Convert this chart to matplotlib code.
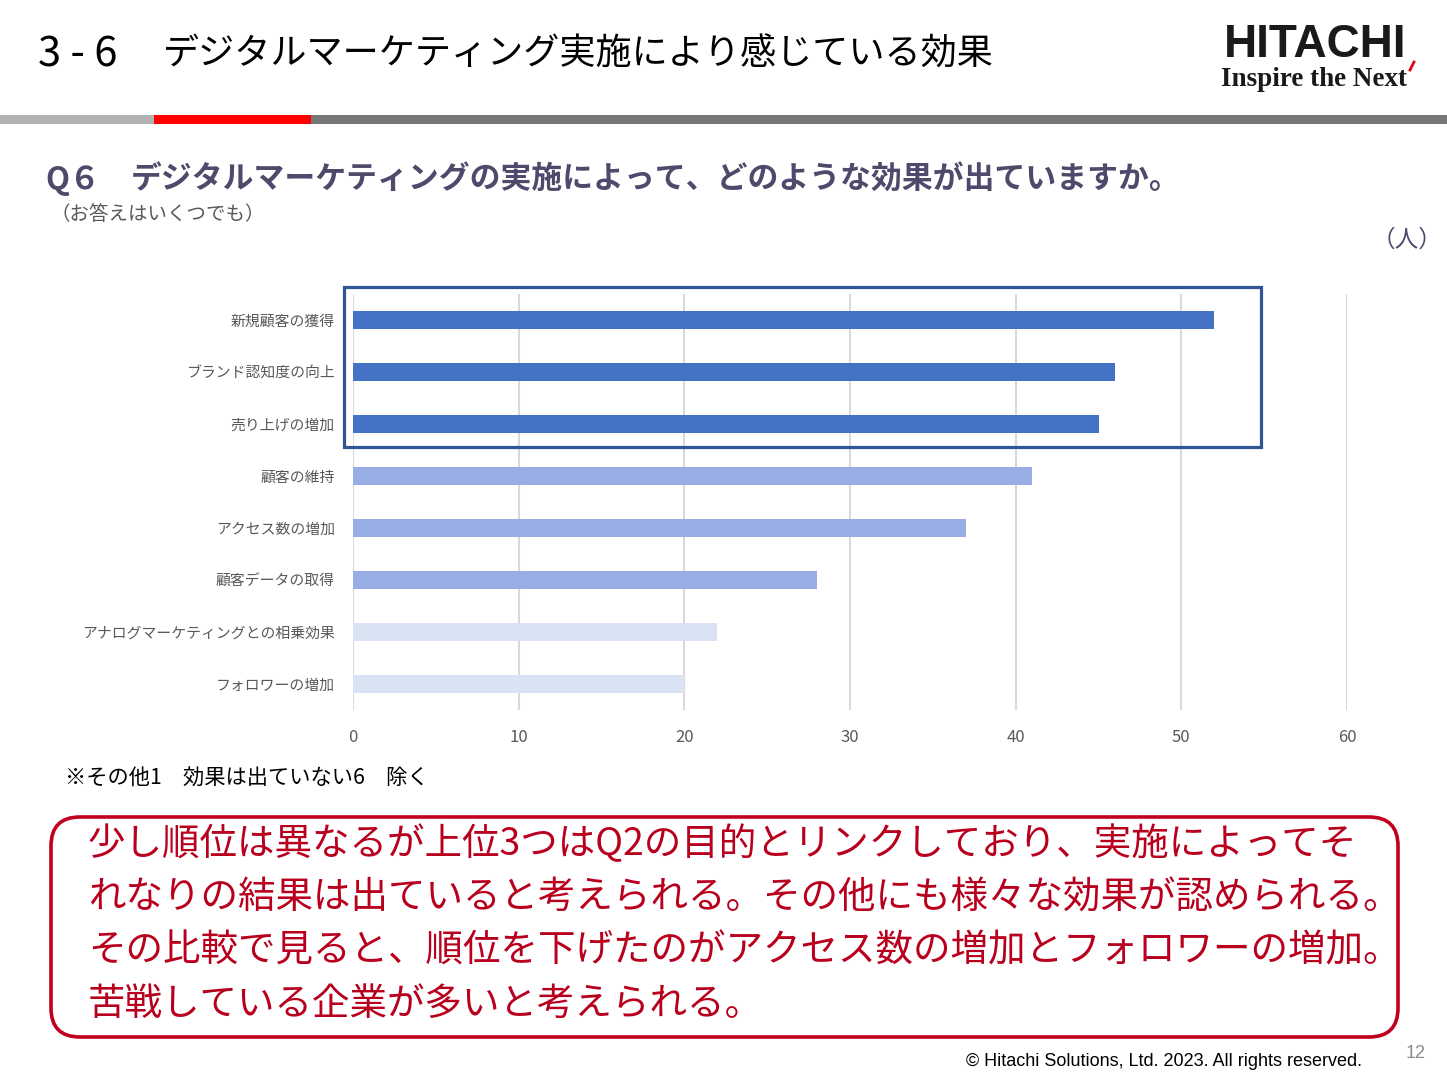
import matplotlib
matplotlib.use("Agg")
import matplotlib.pyplot as plt
from matplotlib.patches import FancyBboxPatch, Rectangle
from matplotlib.lines import Line2D

plt.rcParams['font.family'] = ['Noto Sans CJK JP', 'DejaVu Sans']

# ---- data ----
categories = ["新規顧客の獲得", "ブランド認知度の向上", "売り上げの増加", "顧客の維持",
              "アクセス数の増加", "顧客データの取得", "アナログマーケティングとの相乗効果", "フォロワーの増加"]
values = [52, 46, 45, 41, 37, 28, 22, 20]
bar_colors = ["#4472C4", "#4472C4", "#4472C4", "#98AEE4", "#98AEE4", "#98AEE4", "#DAE3F3", "#DAE3F3"]
x_ticks = [0, 10, 20, 30, 40, 50, 60]

title_num = "3 - 6"
title_text = "デジタルマーケティング実施により感じている効果"
q_num = "Q６"
q_text = "デジタルマーケティングの実施によって、どのような効果が出ていますか。"
q_sub = "（お答えはいくつでも）"
unit_label = "（人）"
note_text = "※その他1　効果は出ていない6　除く"
comment_lines = [
    "少し順位は異なるが上位3つはQ2の目的とリンクしており、実施によってそ",
    "れなりの結果は出ていると考えられる。その他にも様々な効果が認められる。",
    "その比較で見ると、順位を下げたのがアクセス数の増加とフォロワーの増加。",
    "苦戦している企業が多いと考えられる。",
]
footer_text = "© Hitachi Solutions, Ltd. 2023. All rights reserved."
page_no = "12"

W, H = 1447, 1083
fig = plt.figure(figsize=(W / 100, H / 100), dpi=100)
fig.patch.set_facecolor("white")


def P(x, y):
    return x / W, 1 - y / H


# ---- header ----
fig.text(*P(38, 55), title_num, fontsize=30, color="black", va="center", ha="left")
fig.text(*P(163, 55), title_text, fontsize=26, color="black", va="center", ha="left")

fig.text(*P(1315, 45), "HITACHI", fontsize=33, fontweight="bold", color="#1a1a1a",
         va="center", ha="center", family=["Liberation Sans", "DejaVu Sans"])
fig.text(*P(1314, 80), "Inspire the Next", fontsize=19.5, fontweight="bold", color="#1a1a1a",
         va="center", ha="center", family=["Liberation Serif", "DejaVu Serif"])
fig.add_artist(Line2D([1410 / W, 1414 / W], [1 - 70 / H, 1 - 62 / H], color="#E60012", lw=2))

# colored strip
for x0, x1, c in [(0, 154, "#B2B2B2"), (154, 311, "#FF0000"), (311, W, "#767676")]:
    fig.add_artist(Rectangle((x0 / W, 1 - 124 / H), (x1 - x0) / W, 9 / H,
                             transform=fig.transFigure, color=c, lw=0))

# ---- question ----
qcol = "#4D4A6B"
fig.text(*P(45, 180), q_num, fontsize=22.5, fontweight="bold", color=qcol, va="center", ha="left")
fig.text(*P(131, 180), q_text, fontsize=22.2, fontweight="bold", color=qcol, va="center", ha="left")
fig.text(*P(50, 215), q_sub, fontsize=14, color="#595959", va="center", ha="left")
fig.text(*P(1442, 240), unit_label, fontsize=17, color=qcol, va="center", ha="right")

# ---- chart ----
ax = fig.add_axes([353 / W, 1 - 710 / H, 994 / W, 416 / H])
ypos = list(range(len(categories)))
ax.barh(ypos, values, height=0.35, color=bar_colors, zorder=3)
ax.set_ylim(len(categories) - 0.5, -0.5)
ax.set_xlim(0, 60)
ax.set_xticks(x_ticks)
ax.set_xticklabels([str(t) for t in x_ticks])
ax.set_yticks(ypos)
ax.set_yticklabels(categories)
ax.tick_params(axis="x", length=0, pad=14, labelsize=12, labelcolor="#595959")
ax.tick_params(axis="y", length=0, pad=13, labelsize=10.7, labelcolor="#595959")
ax.grid(axis="x", color="#D9D9D9", lw=1.5, zorder=0)
ax.set_axisbelow(True)
for s in ax.spines.values():
    s.set_visible(False)
ax.set_facecolor("none")

# highlight box
fig.add_artist(Rectangle((344 / W, 1 - 447 / H), 917 / W, 160 / H, transform=fig.transFigure,
                         fill=False, edgecolor="#2F5597", lw=2.3, zorder=10))

# note
fig.text(*P(65, 779), note_text, fontsize=15.3, color="black", va="center", ha="left")

# ---- comment box ----
box = FancyBboxPatch((51 / W, 1 - 1037 / H), 1347 / W, 220 / H,
                     boxstyle="round,pad=0,rounding_size=0.02",
                     transform=fig.transFigure, facecolor="white", edgecolor="#C0001E", lw=2.6,
                     mutation_aspect=W / H)
fig.add_artist(box)
for i, line in enumerate(comment_lines):
    fig.text(*P(88, 845 + 53 * i), line, fontsize=27, color="#B8001E", va="center", ha="left")

# ---- footer ----
fig.text(*P(1362, 1061), footer_text, fontsize=13, color="black", va="center", ha="right",
         family=["Liberation Sans Narrow", "Liberation Sans", "DejaVu Sans"])
fig.text(*P(1426, 1053), page_no, fontsize=13, color="#8C8C8C", va="center", ha="right",
         family=["Liberation Sans Narrow", "Liberation Sans", "DejaVu Sans"])

fig.savefig("out.png", dpi=100, facecolor="white")
